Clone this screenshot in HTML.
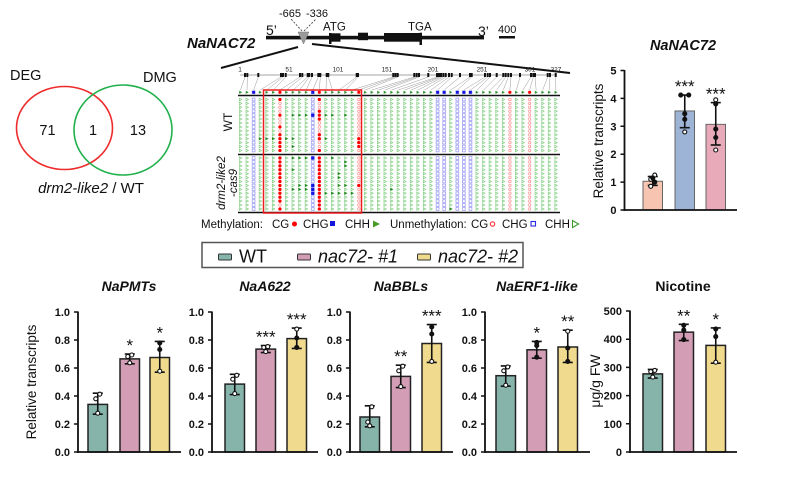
<!DOCTYPE html>
<html><head><meta charset="utf-8">
<style>
html,body{margin:0;padding:0;background:#fff;}
svg{display:block;font-family:"Liberation Sans",Arial,sans-serif;}
</style></head>
<body>
<svg width="800" height="497" viewBox="0 0 800 497" xmlns="http://www.w3.org/2000/svg" xmlns:xlink="http://www.w3.org/1999/xlink">
<defs>
<pattern id="pT" patternUnits="userSpaceOnUse" width="6.57" height="3.92"><path d="M2.185,0.66L4.685,1.96L2.185,3.26Z" fill="none" stroke="#72c872" stroke-width="0.6"/></pattern>
<pattern id="pS" patternUnits="userSpaceOnUse" width="6.57" height="3.92"><rect x="1.885" y="0.56" width="2.8" height="2.8" fill="none" stroke="#8080f0" stroke-width="0.6"/></pattern>
<pattern id="pC" patternUnits="userSpaceOnUse" width="6.57" height="3.92"><circle cx="3.285" cy="1.96" r="1.3" fill="none" stroke="#ff7a7a" stroke-width="0.6"/></pattern>
<pattern id="pTf" patternUnits="userSpaceOnUse" width="6.57" height="3.92"><path d="M1.985,0.36L4.885,1.96L1.985,3.56Z" fill="#238a23"/></pattern>
<pattern id="pSf" patternUnits="userSpaceOnUse" width="6.57" height="3.92"><rect x="1.685" y="0.36" width="3.2" height="3.2" fill="#1515e0"/></pattern>
<pattern id="pCf" patternUnits="userSpaceOnUse" width="6.57" height="3.92"><circle cx="3.285" cy="1.96" r="1.6" fill="#f00"/></pattern>
<g id="ovO">
<rect x="0" y="0" width="321.93" height="54.88" fill="url(#pT)"/>
<g fill="#fff">
<rect x="13.14" y="0" width="6.57" height="54.88"/>
<rect x="39.42" y="0" width="6.57" height="54.88"/>
<rect x="72.27" y="0" width="13.14" height="54.88"/>
<rect x="118.26" y="0" width="6.57" height="54.88"/>
<rect x="197.1" y="0" width="13.14" height="54.88"/>
<rect x="216.81" y="0" width="19.71" height="54.88"/>
<rect x="269.37" y="0" width="6.57" height="54.88"/>
<rect x="289.08" y="0" width="6.57" height="54.88"/>
</g>
<g fill="url(#pS)">
<rect x="13.14" y="0" width="6.57" height="54.88"/>
<rect x="72.27" y="0" width="6.57" height="54.88"/>
<rect x="197.1" y="0" width="13.14" height="54.88"/>
<rect x="216.81" y="0" width="19.71" height="54.88"/>
</g>
<g fill="url(#pC)">
<rect x="39.42" y="0" width="6.57" height="54.88"/>
<rect x="78.84" y="0" width="6.57" height="54.88"/>
<rect x="118.26" y="0" width="6.57" height="54.88"/>
<rect x="269.37" y="0" width="6.57" height="54.88"/>
<rect x="289.08" y="0" width="6.57" height="54.88"/>
</g>
</g>
<path id="tf" d="M-1.3,-1.6L1.6,0L-1.3,1.6Z" fill="#238a23"/>
<rect id="sf" x="-1.6" y="-1.6" width="3.2" height="3.2" fill="#1515e0"/>
<circle id="cf" cx="0" cy="0" r="1.6" fill="#f00"/>
</defs>
<rect width="800" height="497" fill="#fff"/>

<!-- Venn -->
<ellipse cx="64.5" cy="128" rx="48" ry="41.5" fill="none" stroke="#ee2a2a" stroke-width="1.6"/>
<ellipse cx="123" cy="130" rx="49" ry="45" fill="none" stroke="#20b04c" stroke-width="1.6"/>
<text x="10" y="80" font-size="14.5" fill="#111">DEG</text>
<text x="143" y="82" font-size="14.5" fill="#111">DMG</text>
<text x="47.5" y="135" font-size="14.5" text-anchor="middle" fill="#111">71</text>
<text x="93" y="135" font-size="14.5" text-anchor="middle" fill="#111">1</text>
<text x="138" y="135" font-size="14.5" text-anchor="middle" fill="#111">13</text>
<text x="91" y="193" font-size="15" text-anchor="middle" fill="#111"><tspan font-style="italic">drm2-like2</tspan> / WT</text>

<!-- Gene diagram -->
<text x="187" y="48" font-size="15" font-weight="bold" font-style="italic" fill="#111">NaNAC72</text>
<text x="266" y="35" font-size="14" fill="#111">5’</text>
<text x="478" y="36" font-size="14" fill="#111">3’</text>
<text x="279" y="17" font-size="11" fill="#111">-665</text>
<text x="306" y="17" font-size="11" fill="#111">-336</text>
<line x1="302" y1="31" x2="291" y2="19" stroke="#333" stroke-width="0.8" stroke-dasharray="2,1.5"/>
<line x1="304" y1="31" x2="316" y2="19" stroke="#333" stroke-width="0.8" stroke-dasharray="2,1.5"/>
<text x="323" y="30.5" font-size="11.5" fill="#111">ATG</text>
<text x="408" y="30.5" font-size="11.5" fill="#111">TGA</text>
<text x="498" y="33" font-size="11" fill="#111">400</text>
<rect x="499" y="36" width="16" height="2.5" fill="#111"/>
<rect x="266" y="35.8" width="218" height="3.6" fill="#111"/>
<rect x="330.5" y="33.3" width="10" height="8.4" fill="#111"/>
<rect x="329" y="33" width="2.5" height="11" fill="#111"/>
<rect x="358" y="32.7" width="10" height="7.5" fill="#111"/>
<rect x="384" y="33" width="38" height="8.7" fill="#111"/>
<rect x="419.5" y="32.7" width="2.5" height="12.3" fill="#111"/>
<path d="M298,32 L309,32 L303.5,44 Z" fill="#9a9a9a" stroke="#777" stroke-width="0.5"/>
<line x1="298" y1="47" x2="221" y2="68" stroke="#111" stroke-width="2"/>
<line x1="312" y1="44" x2="570" y2="73" stroke="#111" stroke-width="2"/>

<!-- ruler -->
<line x1="240" y1="75" x2="557" y2="75" stroke="#888" stroke-width="0.8"/>
<path d="M245,77L240.5,90M247.3,77L247.07,90M258.3,77L253.64,90M281,77L260.21,90M283,77L266.78,90M285.7,77L273.35,90M300,77L279.92,90M302.3,77L286.49,90M307.7,77L293.06,90M309.3,77L299.63,90M312,77L306.2,90M318.3,77L312.77,90M320.3,77L319.34,90M326.7,77L325.91,90M328.3,77L332.48,90M356.7,77L339.05,90M358,77L345.62,90M393.3,77L352.19,90M395.5,77L358.76,90M397.7,77L365.33,90M414.3,77L371.9,90M416.7,77L378.47,90M419,77L385.04,90M428.3,77L391.61,90M437,77L398.18,90M439,77L404.75,90M441,77L411.32,90M443.3,77L417.89,90M445.7,77L424.46,90M449,77L431.03,90M451.7,77L437.6,90M460,77L444.17,90M470,77L450.74,90M471.7,77L457.31,90M485,77L463.88,90M487.7,77L470.45,90M490,77L477.02,90M496.7,77L483.59,90M503.3,77L490.16,90M505.7,77L496.73,90M508.3,77L503.3,90M511,77L509.87,90M520,77L516.44,90M531,77L523.01,90M533.3,77L529.58,90M535,77L536.15,90M547.7,77L542.72,90M550,77L549.29,90M555.7,77L555.86,90" stroke="#9a9a9a" stroke-width="0.5" fill="none"/>
<path d="M245,73V77M247.3,73V77M258.3,73V77M281,73V77M283,73V77M285.7,73V77M300,73V77M302.3,73V77M307.7,73V77M309.3,73V77M312,73V77M318.3,73V77M320.3,73V77M326.7,73V77M328.3,73V77M356.7,73V77M358,73V77M393.3,73V77M395.5,73V77M397.7,73V77M414.3,73V77M416.7,73V77M419,73V77M428.3,73V77M437,73V77M439,73V77M441,73V77M443.3,73V77M445.7,73V77M449,73V77M451.7,73V77M460,73V77M470,73V77M471.7,73V77M485,73V77M487.7,73V77M490,73V77M496.7,73V77M503.3,73V77M505.7,73V77M508.3,73V77M511,73V77M520,73V77M531,73V77M533.3,73V77M535,73V77M547.7,73V77M550,73V77M555.7,73V77" stroke="#111" stroke-width="2" fill="none"/>
<g font-size="6.5" text-anchor="middle" fill="#222">
<text x="240" y="71.5">1</text><text x="289" y="71.5">51</text><text x="338" y="71.5">101</text><text x="387" y="71.5">151</text>
<text x="433" y="71.5">201</text><text x="482" y="71.5">251</text><text x="530" y="71.5">301</text><text x="556" y="71.5">327</text>
</g>

<!-- reference row -->
<g transform="translate(237.215,90.34)">
<rect x="0" y="0" width="321.93" height="3.92" fill="url(#pTf)"/>
<g fill="#fff">
<rect x="13.14" y="0" width="6.57" height="3.92"/><rect x="39.42" y="0" width="6.57" height="3.92"/>
<rect x="72.27" y="0" width="13.14" height="3.92"/><rect x="118.26" y="0" width="6.57" height="3.92"/>
<rect x="197.1" y="0" width="13.14" height="3.92"/><rect x="216.81" y="0" width="19.71" height="3.92"/>
<rect x="269.37" y="0" width="6.57" height="3.92"/><rect x="289.08" y="0" width="6.57" height="3.92"/>
</g>
<g fill="url(#pSf)">
<rect x="13.14" y="0" width="6.57" height="3.92"/><rect x="72.27" y="0" width="6.57" height="3.92"/>
<rect x="197.1" y="0" width="13.14" height="3.92"/><rect x="216.81" y="0" width="19.71" height="3.92"/>
</g>
<g fill="url(#pCf)">
<rect x="39.42" y="0" width="6.57" height="3.92"/><rect x="78.84" y="0" width="6.57" height="3.92"/>
<rect x="118.26" y="0" width="6.57" height="3.92"/><rect x="269.37" y="0" width="6.57" height="3.92"/>
<rect x="289.08" y="0" width="6.57" height="3.92"/>
</g>
</g>

<!-- WT rows -->
<g transform="translate(237.215,97.54)"><use href="#ovO" xlink:href="#ovO"/></g>
<!-- drm rows -->
<g transform="translate(237.215,156.04)"><use href="#ovO" xlink:href="#ovO"/></g>

<!-- WT methylated -->
<g transform="translate(240.5,99.5)">
<use href="#cf" x="39.42" y="0"/><use href="#cf" x="78.84" y="0"/>
<use href="#cf" x="78.84" y="11.76"/>
<use href="#cf" x="39.42" y="15.68"/><use href="#tf" x="52.56" y="15.68"/><use href="#tf" x="59.13" y="15.68"/><use href="#tf" x="65.7" y="15.68"/><use href="#sf" x="72.27" y="15.68"/><use href="#cf" x="78.84" y="15.68"/><use href="#tf" x="85.41" y="15.68"/><use href="#tf" x="91.98" y="15.68"/><use href="#tf" x="105.12" y="15.68"/>
<use href="#cf" x="78.84" y="19.6"/>
<use href="#cf" x="39.42" y="27.44"/>
<use href="#cf" x="39.42" y="35.28"/><use href="#cf" x="78.84" y="35.28"/>
<use href="#tf" x="19.71" y="39.2"/><use href="#tf" x="26.28" y="39.2"/><use href="#tf" x="32.85" y="39.2"/><use href="#cf" x="39.42" y="39.2"/><use href="#tf" x="45.99" y="39.2"/><use href="#tf" x="52.56" y="39.2"/><use href="#cf" x="78.84" y="39.2"/><use href="#tf" x="85.41" y="39.2"/><use href="#cf" x="118.26" y="39.2"/>
<use href="#cf" x="39.42" y="43.12"/><use href="#cf" x="118.26" y="43.12"/>
<use href="#cf" x="39.42" y="47.04"/><use href="#tf" x="52.56" y="47.04"/><use href="#cf" x="118.26" y="47.04"/>
<use href="#cf" x="39.42" y="50.96"/><use href="#cf" x="78.84" y="50.96"/>
</g>

<!-- drm methylated -->
<g transform="translate(240.5,158)">
<use href="#cf" x="39.42" y="0"/><use href="#tf" x="52.56" y="0"/><use href="#tf" x="59.13" y="0"/><use href="#tf" x="65.7" y="0"/><use href="#sf" x="72.27" y="0"/><use href="#cf" x="78.84" y="0"/><use href="#tf" x="91.98" y="0"/>
<use href="#cf" x="39.42" y="3.92"/><use href="#cf" x="78.84" y="3.92"/><use href="#tf" x="105.12" y="3.92"/>
<use href="#cf" x="39.42" y="7.84"/><use href="#cf" x="78.84" y="7.84"/><use href="#tf" x="105.12" y="7.84"/>
<use href="#cf" x="39.42" y="11.76"/><use href="#tf" x="52.56" y="11.76"/><use href="#cf" x="78.84" y="11.76"/>
<use href="#cf" x="39.42" y="15.68"/><use href="#cf" x="78.84" y="15.68"/><use href="#tf" x="98.55" y="15.68"/>
<use href="#cf" x="39.42" y="19.6"/><use href="#cf" x="78.84" y="19.6"/><use href="#tf" x="98.55" y="19.6"/>
<use href="#cf" x="39.42" y="23.52"/><use href="#cf" x="78.84" y="23.52"/>
<use href="#cf" x="39.42" y="27.44"/><use href="#tf" x="59.13" y="27.44"/><use href="#tf" x="65.7" y="27.44"/><use href="#sf" x="72.27" y="27.44"/><use href="#cf" x="78.84" y="27.44"/><use href="#tf" x="98.55" y="27.44"/><use href="#tf" x="105.12" y="27.44"/><use href="#cf" x="118.26" y="27.44"/>
<use href="#cf" x="39.42" y="31.36"/><use href="#tf" x="52.56" y="31.36"/><use href="#tf" x="59.13" y="31.36"/><use href="#tf" x="65.7" y="31.36"/><use href="#sf" x="72.27" y="31.36"/><use href="#cf" x="78.84" y="31.36"/><use href="#tf" x="151.11" y="31.36"/>
<use href="#cf" x="39.42" y="35.28"/><use href="#sf" x="72.27" y="35.28"/><use href="#cf" x="78.84" y="35.28"/><use href="#tf" x="85.41" y="35.28"/><use href="#tf" x="91.98" y="35.28"/><use href="#tf" x="98.55" y="35.28"/><use href="#tf" x="105.12" y="35.28"/><use href="#tf" x="111.69" y="35.28"/>
<use href="#cf" x="39.42" y="39.2"/><use href="#cf" x="78.84" y="39.2"/>
<use href="#cf" x="39.42" y="43.12"/><use href="#cf" x="78.84" y="43.12"/>
<use href="#cf" x="78.84" y="47.04"/>
<use href="#cf" x="39.42" y="50.96"/><use href="#cf" x="78.84" y="50.96"/><use href="#tf" x="210.24" y="50.96"/>
</g>

<line x1="238" y1="95.5" x2="560" y2="95.5" stroke="#111" stroke-width="1.6"/>
<line x1="238" y1="154.5" x2="560" y2="154.5" stroke="#111" stroke-width="1.6"/>
<line x1="238" y1="212.5" x2="560" y2="212.5" stroke="#111" stroke-width="1.6"/>
<rect x="263.5" y="90" width="98" height="123" fill="none" stroke="#ee1c1c" stroke-width="1.5"/>
<text transform="translate(232,122) rotate(-90)" font-size="12" text-anchor="middle" fill="#111">WT</text>
<text transform="translate(225,183) rotate(-90)" font-size="11.5" font-style="italic" text-anchor="middle" fill="#111">drm2-like2</text>
<text transform="translate(237,183) rotate(-90)" font-size="11.5" font-style="italic" text-anchor="middle" fill="#111">-cas9</text>

<!-- methylation legend -->
<g font-size="11.5" fill="#111">
<text x="201" y="228">Methylation:</text>
<text x="272" y="228">CG</text>
<circle cx="294.5" cy="224" r="2.5" fill="#f00"/>
<text x="303" y="228">CHG</text>
<rect x="330" y="221" width="5" height="5" fill="#1515e0"/>
<text x="345" y="228">CHH</text>
<path d="M373,220.5 L380,224 L373,227.5Z" fill="#4a9a2a"/>
<text x="390" y="228">Unmethylation:</text>
<text x="471" y="228">CG</text>
<circle cx="492.5" cy="224" r="2.2" fill="none" stroke="#f33" stroke-width="1.1"/>
<text x="502" y="228">CHG</text>
<rect x="531" y="221.5" width="4.5" height="4.5" fill="none" stroke="#2a2ae0" stroke-width="1.1"/>
<text x="545" y="228">CHH</text>
<path d="M572.5,220.5 L578.5,224 L572.5,227.5Z" fill="none" stroke="#3a9a2a" stroke-width="1.1"/>
</g>

<!-- ===== top-right chart ===== -->
<text x="683" y="50" font-size="14.5" font-weight="bold" font-style="italic" text-anchor="middle" fill="#111">NaNAC72</text>
<text transform="translate(603,141) rotate(-90)" font-size="13.5" text-anchor="middle" fill="#111">Relative transcripts</text>
<rect x="643" y="181.26" width="19.5" height="28.74" fill="#f6c4b1" stroke="#666" stroke-width="1"/>
<rect x="675" y="110.96" width="19.5" height="99.04" fill="#9db4d6" stroke="#666" stroke-width="1"/>
<rect x="706" y="124.35" width="19.5" height="85.65" fill="#e8aab9" stroke="#666" stroke-width="1"/>
<g stroke="#111" stroke-width="1.6">
<line x1="652.75" y1="185.4" x2="652.75" y2="176.5"/><line x1="647.75" y1="185.4" x2="657.75" y2="185.4"/><line x1="647.75" y1="176.5" x2="657.75" y2="176.5"/>
<line x1="684.75" y1="127.7" x2="684.75" y2="95.05"/><line x1="679.75" y1="127.7" x2="689.75" y2="127.7"/><line x1="679.75" y1="95.05" x2="689.75" y2="95.05"/>
<line x1="715.75" y1="145" x2="715.75" y2="102.6"/><line x1="710.75" y1="145" x2="720.75" y2="145"/><line x1="710.75" y1="102.6" x2="720.75" y2="102.6"/>
</g>
<g stroke="#111" stroke-width="1.1">
<circle cx="650.75" cy="186.3" r="2" fill="#fff"/><circle cx="654.75" cy="182.1" r="2" fill="#111"/><circle cx="650.75" cy="179.3" r="2" fill="#fff"/><circle cx="654.75" cy="175.1" r="2" fill="#fff"/><circle cx="652.75" cy="177.9" r="2" fill="#111"/>
<circle cx="684.75" cy="131.9" r="2" fill="#fff"/><circle cx="684.75" cy="119.3" r="2" fill="#111"/><circle cx="684.75" cy="113.7" r="2" fill="#111"/><circle cx="680.75" cy="95.05" r="2" fill="#111"/><circle cx="688.75" cy="95.05" r="2" fill="#111"/>
<circle cx="715.75" cy="150" r="2" fill="#fff"/><circle cx="715.75" cy="137.5" r="2" fill="#111"/><circle cx="715.75" cy="129.1" r="2" fill="#111"/><circle cx="715.75" cy="104" r="2" fill="#111"/><circle cx="715.75" cy="99.8" r="2" fill="#fff"/>
</g>
<g font-size="17" text-anchor="middle" fill="#111">
<text x="684.75" y="92">***</text><text x="715.75" y="99.6">***</text>
</g>
<line x1="624.5" y1="70" x2="624.5" y2="210.9" stroke="#111" stroke-width="1.8"/>
<line x1="623.6" y1="210" x2="737" y2="210" stroke="#111" stroke-width="1.8"/>
<path d="M620.5,210H624.5M620.5,182.1H624.5M620.5,154.2H624.5M620.5,126.3H624.5M620.5,98.4H624.5M620.5,70.5H624.5" stroke="#111" stroke-width="1.5"/>
<g font-size="11" font-weight="bold" text-anchor="end" fill="#111">
<text x="616.5" y="214">0</text><text x="616.5" y="186.1">1</text><text x="616.5" y="158.2">2</text><text x="616.5" y="130.3">3</text><text x="616.5" y="102.4">4</text><text x="616.5" y="74.5">5</text>
</g>

<!-- legend -->
<rect x="202" y="242.5" width="321" height="25" fill="#fff" stroke="#555" stroke-width="1.5"/>
<rect x="218.5" y="254" width="13" height="6" rx="1" fill="#86b4ab" stroke="#333" stroke-width="1"/>
<text x="239" y="262.5" font-size="18" fill="#111">WT</text>
<rect x="297.5" y="254" width="13" height="6" rx="1" fill="#d39eb5" stroke="#333" stroke-width="1"/>
<text x="318" y="262.5" font-size="18" font-style="italic" fill="#111">nac72- #1</text>
<rect x="417.5" y="254" width="13" height="6" rx="1" fill="#f0da8e" stroke="#333" stroke-width="1"/>
<text x="438" y="262.5" font-size="18" font-style="italic" fill="#111">nac72- #2</text>

<!-- bottom titles -->
<g font-size="14" font-weight="bold" font-style="italic" text-anchor="middle" fill="#111">
<text x="129" y="291">NaPMTs</text>
<text x="265" y="291">NaA622</text>
<text x="401" y="291">NaBBLs</text>
<text x="537" y="291">NaERF1-like</text>
<text x="683" y="291" font-style="normal">Nicotine</text>
</g>
<text transform="translate(36,382) rotate(-90)" font-size="13.5" text-anchor="middle" fill="#111">Relative transcripts</text>
<text transform="translate(600,381) rotate(-90)" font-size="14" text-anchor="middle" fill="#111">μg/g FW</text>

<!-- bars -->
<g stroke="#222" stroke-width="1.5">
<rect x="88" y="404.4" width="19.5" height="47.6" fill="#86b4ab"/>
<rect x="120" y="358.9" width="19.5" height="93.1" fill="#d39eb5"/>
<rect x="150" y="357.5" width="19.5" height="94.5" fill="#f0da8e"/>
<rect x="225" y="384.1" width="19.5" height="67.9" fill="#86b4ab"/>
<rect x="256" y="349.1" width="19.5" height="102.9" fill="#d39eb5"/>
<rect x="287" y="338.6" width="19.5" height="113.4" fill="#f0da8e"/>
<rect x="360" y="417" width="19.5" height="35" fill="#86b4ab"/>
<rect x="391" y="376.4" width="19.5" height="75.6" fill="#d39eb5"/>
<rect x="422" y="343.5" width="19.5" height="108.5" fill="#f0da8e"/>
<rect x="496" y="375.7" width="19.5" height="76.3" fill="#86b4ab"/>
<rect x="527" y="349.8" width="19.5" height="102.2" fill="#d39eb5"/>
<rect x="558" y="347" width="19.5" height="105" fill="#f0da8e"/>
<rect x="643" y="373.9" width="19.5" height="78.1" fill="#86b4ab"/>
<rect x="674" y="332.15" width="19.5" height="119.85" fill="#d39eb5"/>
<rect x="706" y="345.4" width="19.5" height="106.6" fill="#f0da8e"/>
</g>

<!-- error bars -->
<g stroke="#111" stroke-width="1.6" fill="none">
<path d="M97.75,414.2V393.2M92.75,414.2H102.75M92.75,393.2H102.75"/>
<path d="M129.75,363.8V354M124.75,363.8H134.75M124.75,354H134.75"/>
<path d="M159.75,372.2V341.4M154.75,372.2H164.75M154.75,341.4H164.75"/>
<path d="M234.75,394.6V374.3M229.75,394.6H239.75M229.75,374.3H239.75"/>
<path d="M265.75,352.6V345.6M260.75,352.6H270.75M260.75,345.6H270.75"/>
<path d="M296.75,348.4V328.1M291.75,348.4H301.75M291.75,328.1H301.75"/>
<path d="M369.75,426.8V405.8M364.75,426.8H374.75M364.75,405.8H374.75"/>
<path d="M400.75,387.6V365.2M395.75,387.6H405.75M395.75,365.2H405.75"/>
<path d="M431.75,362.4V324.6M426.75,362.4H436.75M426.75,324.6H436.75"/>
<path d="M505.75,386.2V365.9M500.75,386.2H510.75M500.75,365.9H510.75"/>
<path d="M536.75,358.2V341.4M531.75,358.2H541.75M531.75,341.4H541.75"/>
<path d="M567.75,362.4V330.2M562.75,362.4H572.75M562.75,330.2H572.75"/>
<path d="M652.75,378.1V369.4M647.75,378.1H657.75M647.75,369.4H657.75"/>
<path d="M683.75,340.6V324.3M678.75,340.6H688.75M678.75,324.3H688.75"/>
<path d="M715.75,363.2V327.9M710.75,363.2H720.75M710.75,327.9H720.75"/>
</g>

<!-- points -->
<g stroke="#111" stroke-width="1.1">
<circle cx="97.75" cy="413.2" r="2" fill="#fff"/><circle cx="95.75" cy="398.8" r="2" fill="#fff"/><circle cx="99.75" cy="394.2" r="2" fill="#fff"/>
<circle cx="129.75" cy="362.8" r="2" fill="#fff"/><circle cx="127.75" cy="356.5" r="2" fill="#fff"/><circle cx="131.75" cy="355" r="2" fill="#fff"/>
<circle cx="159.75" cy="371.2" r="2" fill="#fff"/><circle cx="159.75" cy="349.5" r="2" fill="#111"/><circle cx="159.75" cy="343" r="2" fill="#111"/>
<circle cx="234.75" cy="393.6" r="2" fill="#fff"/><circle cx="232.75" cy="379.2" r="2" fill="#fff"/><circle cx="236.75" cy="375.3" r="2" fill="#fff"/>
<circle cx="265.75" cy="351.6" r="2" fill="#fff"/><circle cx="263.75" cy="347.4" r="2" fill="#fff"/><circle cx="267.75" cy="346.6" r="2" fill="#fff"/>
<circle cx="296.75" cy="347.4" r="2" fill="#111"/><circle cx="296.75" cy="338" r="2" fill="#111"/><circle cx="296.75" cy="329.1" r="2" fill="#fff"/>
<circle cx="369.75" cy="425.8" r="2" fill="#fff"/><circle cx="367.75" cy="422" r="2" fill="#fff"/><circle cx="371.75" cy="406.8" r="2" fill="#fff"/>
<circle cx="400.75" cy="386.6" r="2" fill="#fff"/><circle cx="398.75" cy="370.8" r="2" fill="#fff"/><circle cx="402.75" cy="366.2" r="2" fill="#fff"/>
<circle cx="431.75" cy="361.4" r="2" fill="#fff"/><circle cx="431.75" cy="334" r="2" fill="#111"/><circle cx="431.75" cy="327" r="2" fill="#111"/>
<circle cx="505.75" cy="385.2" r="2" fill="#fff"/><circle cx="503.75" cy="370.8" r="2" fill="#fff"/><circle cx="507.75" cy="366.9" r="2" fill="#fff"/>
<circle cx="536.75" cy="357.2" r="2" fill="#111"/><circle cx="536.75" cy="345.6" r="2" fill="#111"/><circle cx="536.75" cy="342.4" r="2" fill="#111"/>
<circle cx="567.75" cy="361.4" r="2" fill="#111"/><circle cx="567.75" cy="348" r="2" fill="#111"/><circle cx="567.75" cy="331.2" r="2" fill="#fff"/>
<circle cx="652.75" cy="377.1" r="2" fill="#fff"/><circle cx="650.75" cy="371.6" r="2" fill="#fff"/><circle cx="654.75" cy="370.4" r="2" fill="#fff"/>
<circle cx="683.75" cy="339.6" r="2" fill="#111"/><circle cx="683.75" cy="330" r="2" fill="#111"/><circle cx="683.75" cy="325.3" r="2" fill="#111"/>
<circle cx="715.75" cy="362.2" r="2" fill="#fff"/><circle cx="715.75" cy="336.6" r="2" fill="#111"/><circle cx="715.75" cy="329" r="2" fill="#111"/>
</g>

<!-- stars -->
<g font-size="17" text-anchor="middle" fill="#111">
<text x="129.75" y="351">*</text><text x="159.75" y="338.4">*</text>
<text x="265.75" y="342.6">***</text><text x="296.75" y="325.1">***</text>
<text x="400.75" y="362.2">**</text><text x="431.75" y="321.6">***</text>
<text x="536.75" y="338.4">*</text><text x="567.75" y="327.2">**</text>
<text x="683.75" y="321.3">**</text><text x="715.75" y="324.9">*</text>
</g>

<!-- axes -->
<g stroke="#111" stroke-width="1.8">
<line x1="78" y1="311.5" x2="78" y2="452.9"/><line x1="77.1" y1="452" x2="181" y2="452"/>
<line x1="212" y1="311.5" x2="212" y2="452.9"/><line x1="211.1" y1="452" x2="318" y2="452"/>
<line x1="350" y1="311.5" x2="350" y2="452.9"/><line x1="349.1" y1="452" x2="453" y2="452"/>
<line x1="485" y1="311.5" x2="485" y2="452.9"/><line x1="484.1" y1="452" x2="590" y2="452"/>
<line x1="630" y1="310.5" x2="630" y2="452.9"/><line x1="629.1" y1="452" x2="737" y2="452"/>
</g>
<g stroke="#111" stroke-width="1.5">
<path d="M74,452H78M74,424H78M74,396H78M74,368H78M74,340H78M74,312H78"/>
<path d="M208,452H212M208,424H212M208,396H212M208,368H212M208,340H212M208,312H212"/>
<path d="M346,452H350M346,424H350M346,396H350M346,368H350M346,340H350M346,312H350"/>
<path d="M481,452H485M481,424H485M481,396H485M481,368H485M481,340H485M481,312H485"/>
<path d="M626,452H630M626,423.8H630M626,395.6H630M626,367.4H630M626,339.2H630M626,311H630"/>
</g>
<g font-size="11" font-weight="bold" text-anchor="end" fill="#111">
<text x="70" y="456">0.0</text><text x="70" y="428">0.2</text><text x="70" y="400">0.4</text><text x="70" y="372">0.6</text><text x="70" y="344">0.8</text><text x="70" y="316">1.0</text>
<text x="204" y="456">0.0</text><text x="204" y="428">0.2</text><text x="204" y="400">0.4</text><text x="204" y="372">0.6</text><text x="204" y="344">0.8</text><text x="204" y="316">1.0</text>
<text x="342" y="456">0.0</text><text x="342" y="428">0.2</text><text x="342" y="400">0.4</text><text x="342" y="372">0.6</text><text x="342" y="344">0.8</text><text x="342" y="316">1.0</text>
<text x="477" y="456">0.0</text><text x="477" y="428">0.2</text><text x="477" y="400">0.4</text><text x="477" y="372">0.6</text><text x="477" y="344">0.8</text><text x="477" y="316">1.0</text>
<text x="622" y="456">0</text><text x="622" y="427.8">100</text><text x="622" y="399.6">200</text><text x="622" y="371.4">300</text><text x="622" y="343.2">400</text><text x="622" y="315">500</text>
</g>
</svg>
</body></html>
